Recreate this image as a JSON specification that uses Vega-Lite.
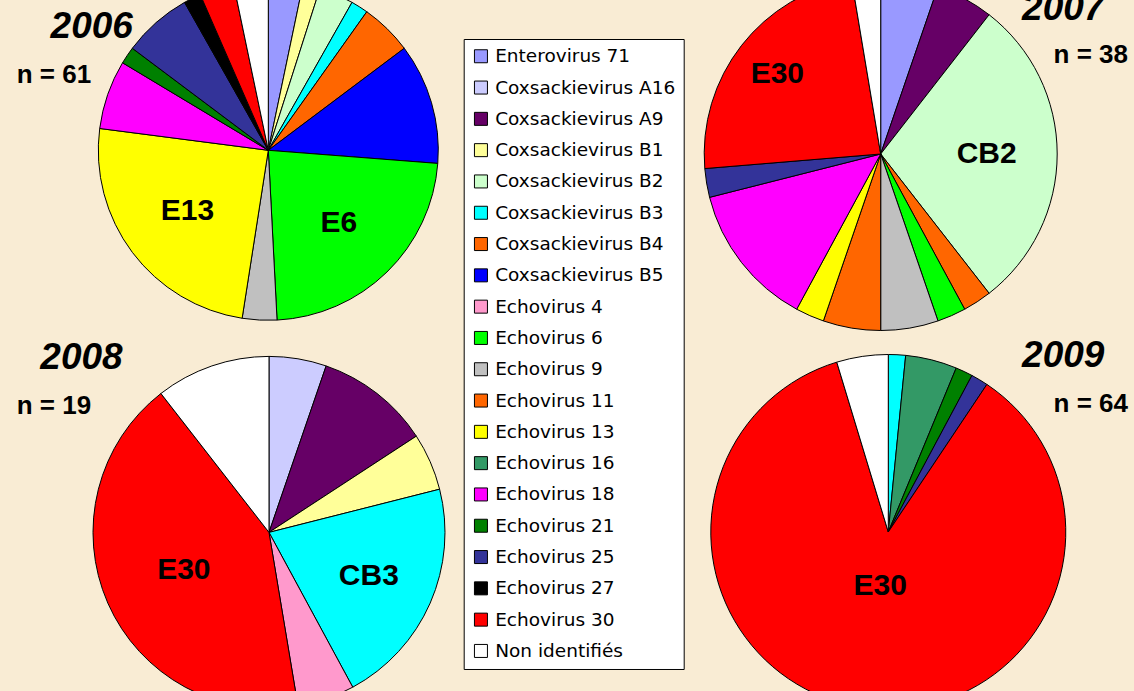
{
  "$schema": "https://vega.github.io/schema/vega-lite/v6.json",
  "background": "#F9ECD4",
  "padding": {"left": 16.7, "top": -25, "right": 6, "bottom": -17},
  "config": {"view": {"stroke": null}, "font": "Liberation Sans"},
  "data": {"values": [
    {"year": 2006, "virus": "Enterovirus 71", "k": 1, "n": 2, "lab": ""},
    {"year": 2006, "virus": "Coxsackievirus B1", "k": 4, "n": 1, "lab": ""},
    {"year": 2006, "virus": "Coxsackievirus B2", "k": 5, "n": 2, "lab": ""},
    {"year": 2006, "virus": "Coxsackievirus B3", "k": 6, "n": 1, "lab": ""},
    {"year": 2006, "virus": "Coxsackievirus B4", "k": 7, "n": 3, "lab": ""},
    {"year": 2006, "virus": "Coxsackievirus B5", "k": 8, "n": 7, "lab": ""},
    {"year": 2006, "virus": "Echovirus 6", "k": 10, "n": 14, "lab": "E6"},
    {"year": 2006, "virus": "Echovirus 9", "k": 11, "n": 2, "lab": ""},
    {"year": 2006, "virus": "Echovirus 13", "k": 13, "n": 15, "lab": "E13"},
    {"year": 2006, "virus": "Echovirus 18", "k": 15, "n": 4, "lab": ""},
    {"year": 2006, "virus": "Echovirus 21", "k": 16, "n": 1, "lab": ""},
    {"year": 2006, "virus": "Echovirus 25", "k": 17, "n": 4, "lab": ""},
    {"year": 2006, "virus": "Echovirus 27", "k": 18, "n": 1, "lab": ""},
    {"year": 2006, "virus": "Echovirus 30", "k": 19, "n": 2, "lab": ""},
    {"year": 2006, "virus": "Non identifiés", "k": 20, "n": 2, "lab": ""},
    {"year": 2007, "virus": "Enterovirus 71", "k": 1, "n": 2, "lab": ""},
    {"year": 2007, "virus": "Coxsackievirus A9", "k": 3, "n": 2, "lab": ""},
    {"year": 2007, "virus": "Coxsackievirus B2", "k": 5, "n": 11, "lab": "CB2"},
    {"year": 2007, "virus": "Coxsackievirus B4", "k": 7, "n": 1, "lab": ""},
    {"year": 2007, "virus": "Echovirus 6", "k": 10, "n": 1, "lab": ""},
    {"year": 2007, "virus": "Echovirus 9", "k": 11, "n": 2, "lab": ""},
    {"year": 2007, "virus": "Echovirus 11", "k": 12, "n": 2, "lab": ""},
    {"year": 2007, "virus": "Echovirus 13", "k": 13, "n": 1, "lab": ""},
    {"year": 2007, "virus": "Echovirus 18", "k": 15, "n": 5, "lab": ""},
    {"year": 2007, "virus": "Echovirus 25", "k": 17, "n": 1, "lab": ""},
    {"year": 2007, "virus": "Echovirus 30", "k": 19, "n": 9, "lab": "E30"},
    {"year": 2007, "virus": "Non identifiés", "k": 20, "n": 1, "lab": ""},
    {"year": 2008, "virus": "Coxsackievirus A16", "k": 2, "n": 1, "lab": ""},
    {"year": 2008, "virus": "Coxsackievirus A9", "k": 3, "n": 2, "lab": ""},
    {"year": 2008, "virus": "Coxsackievirus B1", "k": 4, "n": 1, "lab": ""},
    {"year": 2008, "virus": "Coxsackievirus B3", "k": 6, "n": 4, "lab": "CB3"},
    {"year": 2008, "virus": "Echovirus 4", "k": 9, "n": 1, "lab": ""},
    {"year": 2008, "virus": "Echovirus 30", "k": 19, "n": 8, "lab": "E30"},
    {"year": 2008, "virus": "Non identifiés", "k": 20, "n": 2, "lab": ""},
    {"year": 2009, "virus": "Coxsackievirus B3", "k": 6, "n": 1, "lab": ""},
    {"year": 2009, "virus": "Echovirus 16", "k": 14, "n": 3, "lab": ""},
    {"year": 2009, "virus": "Echovirus 21", "k": 16, "n": 1, "lab": ""},
    {"year": 2009, "virus": "Echovirus 25", "k": 17, "n": 1, "lab": ""},
    {"year": 2009, "virus": "Echovirus 30", "k": 19, "n": 55, "lab": "E30"},
    {"year": 2009, "virus": "Non identifiés", "k": 20, "n": 3, "lab": ""}
  ]},
  "bounds": "flush",
  "spacing": 607.3,
  "hconcat": [
    {
      "bounds": "flush",
      "spacing": 30.4,
      "vconcat": [
        {
          "width": 351.2, "height": 346.6,
          "title": {"text": "\u200b\u00a0\u00a0\u00a0\u200a2006", "subtitle": "n = 61", "anchor": "start", "frame": "group", "orient": "top", "offset": -112, "dx": -76, "font": "Liberation Sans", "fontSize": 37, "fontWeight": "bold", "fontStyle": "italic", "color": "black", "subtitleFont": "Liberation Sans", "subtitleFontSize": 26, "subtitleFontWeight": "bold", "subtitleColor": "black", "subtitlePadding": 16},
          "transform": [{"filter": "datum.year == 2006"}],
          "encoding": {
            "theta": {"field": "n", "type": "quantitative", "stack": true},
            "order": {"field": "k", "type": "quantitative"}
          },
          "layer": [
            {"mark": {"type": "arc", "outerRadius": 170, "stroke": "black", "strokeWidth": 1},
             "encoding": {"color": {"field": "virus", "type": "nominal",
               "scale": {"domain": ["Enterovirus 71", "Coxsackievirus A16", "Coxsackievirus A9", "Coxsackievirus B1", "Coxsackievirus B2", "Coxsackievirus B3", "Coxsackievirus B4", "Coxsackievirus B5", "Echovirus 4", "Echovirus 6", "Echovirus 9", "Echovirus 11", "Echovirus 13", "Echovirus 16", "Echovirus 18", "Echovirus 21", "Echovirus 25", "Echovirus 27", "Echovirus 30", "Non identifiés"],
                         "range": ["#9999FF", "#CCCCFF", "#660066", "#FFFF99", "#CCFFCC", "#00FFFF", "#FF6600", "#0000FF", "#FF99CC", "#00FF00", "#C0C0C0", "#FF6600", "#FFFF00", "#339966", "#FF00FF", "#008000", "#333399", "#000000", "#FF0000", "#FFFFFF"]},
               "legend": {"orient": "none", "legendX": 371, "legendY": 62, "title": null, "symbolType": "square", "symbolSize": 169, "symbolStrokeColor": "black", "symbolStrokeWidth": 1, "labelFont": "DejaVu Sans", "labelFontSize": 18.5, "labelColor": "black", "labelOffset": 5, "rowPadding": 12.3, "padding": 8, "fillColor": "white", "strokeColor": "black", "labelLimit": 400}}}},
            {"mark": {"type": "text", "radius": 101, "font": "Liberation Sans", "fontSize": 30, "fontWeight": "bold", "color": "black"},
             "encoding": {"text": {"field": "lab"}, "detail": {"field": "virus"}}}
          ]
        },
        {
          "width": 352.6, "height": 356,
          "title": {"text": "\u200b\u00a0\u00a0\u200a2008", "subtitle": "n = 19", "anchor": "start", "frame": "group", "orient": "top", "offset": -66, "dx": -76, "font": "Liberation Sans", "fontSize": 37, "fontWeight": "bold", "fontStyle": "italic", "color": "black", "subtitleFont": "Liberation Sans", "subtitleFontSize": 26, "subtitleFontWeight": "bold", "subtitleColor": "black", "subtitlePadding": 16},
          "transform": [{"filter": "datum.year == 2008"}],
          "encoding": {
            "theta": {"field": "n", "type": "quantitative", "stack": true},
            "order": {"field": "k", "type": "quantitative"}
          },
          "layer": [
            {"mark": {"type": "arc", "outerRadius": 176, "stroke": "black", "strokeWidth": 1},
             "encoding": {"color": {"field": "virus", "type": "nominal",
               "legend": {"orient": "none", "legendX": 371, "legendY": 62, "title": null, "symbolType": "square", "symbolSize": 169, "symbolStrokeColor": "black", "symbolStrokeWidth": 1, "labelFont": "DejaVu Sans", "labelFontSize": 18.5, "labelColor": "black", "labelOffset": 5, "rowPadding": 12.3, "padding": 8, "fillColor": "white", "strokeColor": "black", "labelLimit": 400}}}},
            {"mark": {"type": "text", "radius": {"expr": "datum.lab == 'E30' ? 93 : 109"}, "font": "Liberation Sans", "fontSize": 30, "fontWeight": "bold", "color": "black"},
             "encoding": {"text": {"field": "lab"}, "detail": {"field": "virus"}}}
          ]
        }
      ]
    },
    {
      "bounds": "flush",
      "spacing": 23,
      "vconcat": [
        {
          "width": 361.4, "height": 354,
          "title": {"text": "2007\u00a0\u00a0\u200a\u200b", "subtitle": "n = 38", "anchor": "end", "frame": "group", "orient": "top", "offset": -93, "dx": 66.6, "font": "Liberation Sans", "fontSize": 37, "fontWeight": "bold", "fontStyle": "italic", "color": "black", "subtitleFont": "Liberation Sans", "subtitleFontSize": 26, "subtitleFontWeight": "bold", "subtitleColor": "black", "subtitlePadding": 14},
          "transform": [{"filter": "datum.year == 2007"}],
          "encoding": {
            "theta": {"field": "n", "type": "quantitative", "stack": true},
            "order": {"field": "k", "type": "quantitative"}
          },
          "layer": [
            {"mark": {"type": "arc", "outerRadius": 176.5, "stroke": "black", "strokeWidth": 1},
             "encoding": {"color": {"field": "virus", "type": "nominal",
               "legend": {"orient": "none", "legendX": 371, "legendY": 62, "title": null, "symbolType": "square", "symbolSize": 169, "symbolStrokeColor": "black", "symbolStrokeWidth": 1, "labelFont": "DejaVu Sans", "labelFontSize": 18.5, "labelColor": "black", "labelOffset": 5, "rowPadding": 12.3, "padding": 8, "fillColor": "white", "strokeColor": "black", "labelLimit": 400}}}},
            {"mark": {"type": "text", "radius": {"expr": "datum.lab == 'E30' ? 131 : 106"}, "font": "Liberation Sans", "fontSize": 30, "fontWeight": "bold", "color": "black"},
             "encoding": {"text": {"field": "lab"}, "detail": {"field": "virus"}}}
          ]
        },
        {
          "width": 376.6, "height": 356,
          "title": {"text": "2009\u00a0\u00a0\u200a\u200b", "subtitle": "n = 64", "anchor": "end", "frame": "group", "orient": "top", "offset": -66, "dx": 51.4, "font": "Liberation Sans", "fontSize": 37, "fontWeight": "bold", "fontStyle": "italic", "color": "black", "subtitleFont": "Liberation Sans", "subtitleFontSize": 26, "subtitleFontWeight": "bold", "subtitleColor": "black", "subtitlePadding": 16},
          "transform": [{"filter": "datum.year == 2009"}],
          "encoding": {
            "theta": {"field": "n", "type": "quantitative", "stack": true},
            "order": {"field": "k", "type": "quantitative"}
          },
          "layer": [
            {"mark": {"type": "arc", "outerRadius": 177.5, "stroke": "black", "strokeWidth": 1},
             "encoding": {"color": {"field": "virus", "type": "nominal",
               "legend": {"orient": "none", "legendX": 371, "legendY": 62, "title": null, "symbolType": "square", "symbolSize": 169, "symbolStrokeColor": "black", "symbolStrokeWidth": 1, "labelFont": "DejaVu Sans", "labelFontSize": 18.5, "labelColor": "black", "labelOffset": 5, "rowPadding": 12.3, "padding": 8, "fillColor": "white", "strokeColor": "black", "labelLimit": 400}}}},
            {"mark": {"type": "text", "radius": 55, "font": "Liberation Sans", "fontSize": 30, "fontWeight": "bold", "color": "black"},
             "encoding": {"text": {"field": "lab"}, "detail": {"field": "virus"}}}
          ]
        }
      ]
    }
  ]
}
